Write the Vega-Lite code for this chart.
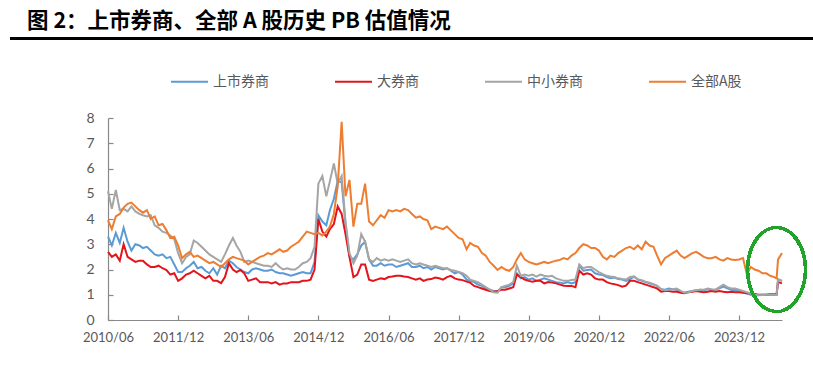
{
  "$schema": "https://vega.github.io/schema/vega-lite/v6.json",
  "width": 674,
  "height": 202,
  "autosize": {"type": "none"},
  "padding": {"left": 108, "top": 118, "right": 31, "bottom": 47},
  "background": "white",
  "config": {
    "view": {"stroke": null},
    "axis": {"domainColor": "#898989", "tickColor": "#898989", "labelColor": "#595959", "labelFont": "Lato", "labelFontSize": 14, "grid": false, "domainWidth": 1.2, "tickWidth": 1.2, "labelOverlap": false, "labelFlush": false}
  },
  "title": {"text": "图 2：上市券商、全部 A 股历史 PB 估值情况", "anchor": "start", "frame": "group", "dx": -81, "offset": 5, "font": "Noto Sans CJK SC", "fontSize": 21.5, "fontWeight": "bold", "color": "#000000"},
  "data": {"values": [
    {"d":"2010-06-01","listed":3.3,"big":2.7,"small":5.1,"allA":3.95},
    {"d":"2010-07-01","listed":2.95,"big":2.5,"small":4.4,"allA":3.6},
    {"d":"2010-08-01","listed":3.45,"big":2.6,"small":5.15,"allA":4.1},
    {"d":"2010-09-01","listed":3.05,"big":2.35,"small":4.35,"allA":4.2},
    {"d":"2010-10-01","listed":3.65,"big":3.0,"small":4.4,"allA":4.45},
    {"d":"2010-11-01","listed":3.1,"big":2.5,"small":4.3,"allA":4.6},
    {"d":"2010-12-01","listed":2.75,"big":2.4,"small":4.5,"allA":4.65},
    {"d":"2011-01-01","listed":3.0,"big":2.3,"small":4.3,"allA":4.5},
    {"d":"2011-02-01","listed":2.95,"big":2.35,"small":4.2,"allA":4.35},
    {"d":"2011-03-01","listed":2.85,"big":2.35,"small":4.15,"allA":4.25},
    {"d":"2011-04-01","listed":2.9,"big":2.2,"small":4.1,"allA":4.35},
    {"d":"2011-05-01","listed":2.75,"big":2.1,"small":4.15,"allA":4.0},
    {"d":"2011-06-01","listed":2.6,"big":2.1,"small":3.75,"allA":4.1},
    {"d":"2011-07-01","listed":2.55,"big":2.15,"small":3.65,"allA":3.75},
    {"d":"2011-08-01","listed":2.6,"big":2.05,"small":3.5,"allA":3.8},
    {"d":"2011-09-01","listed":2.45,"big":1.98,"small":3.45,"allA":3.55},
    {"d":"2011-10-01","listed":2.5,"big":1.8,"small":3.35,"allA":3.25},
    {"d":"2011-11-01","listed":2.2,"big":1.85,"small":3.2,"allA":3.3},
    {"d":"2011-12-01","listed":1.9,"big":1.55,"small":2.65,"allA":2.95},
    {"d":"2012-01-01","listed":1.9,"big":1.65,"small":2.25,"allA":2.45},
    {"d":"2012-02-01","listed":2.05,"big":1.8,"small":2.5,"allA":2.6},
    {"d":"2012-03-01","listed":2.15,"big":1.85,"small":2.6,"allA":2.7},
    {"d":"2012-04-01","listed":2.3,"big":1.95,"small":3.15,"allA":2.5},
    {"d":"2012-05-01","listed":2.05,"big":1.85,"small":3.05,"allA":2.55},
    {"d":"2012-06-01","listed":2.1,"big":1.75,"small":2.9,"allA":2.45},
    {"d":"2012-07-01","listed":1.95,"big":1.65,"small":2.75,"allA":2.35},
    {"d":"2012-08-01","listed":1.85,"big":1.75,"small":2.6,"allA":2.25},
    {"d":"2012-09-01","listed":2.05,"big":1.55,"small":2.5,"allA":2.3},
    {"d":"2012-10-01","listed":1.8,"big":1.55,"small":2.4,"allA":2.2},
    {"d":"2012-11-01","listed":2.15,"big":1.46,"small":2.3,"allA":2.1},
    {"d":"2012-12-01","listed":2.05,"big":1.7,"small":2.6,"allA":2.25},
    {"d":"2013-01-01","listed":2.35,"big":2.25,"small":2.95,"allA":2.4},
    {"d":"2013-02-01","listed":2.25,"big":2.0,"small":3.25,"allA":2.5},
    {"d":"2013-03-01","listed":2.1,"big":1.9,"small":2.95,"allA":2.45},
    {"d":"2013-04-01","listed":2.0,"big":1.98,"small":2.7,"allA":2.4},
    {"d":"2013-05-01","listed":1.9,"big":1.85,"small":2.3,"allA":2.35},
    {"d":"2013-06-01","listed":1.85,"big":1.55,"small":2.35,"allA":2.2},
    {"d":"2013-07-01","listed":2.0,"big":1.6,"small":2.3,"allA":2.3},
    {"d":"2013-08-01","listed":2.05,"big":1.65,"small":2.25,"allA":2.4},
    {"d":"2013-09-01","listed":2.0,"big":1.5,"small":2.2,"allA":2.5},
    {"d":"2013-10-01","listed":1.95,"big":1.5,"small":2.15,"allA":2.55},
    {"d":"2013-11-01","listed":1.95,"big":1.5,"small":2.15,"allA":2.65},
    {"d":"2013-12-01","listed":2.0,"big":1.45,"small":2.1,"allA":2.6},
    {"d":"2014-01-01","listed":1.9,"big":1.5,"small":2.25,"allA":2.7},
    {"d":"2014-02-01","listed":1.85,"big":1.4,"small":2.1,"allA":2.8},
    {"d":"2014-03-01","listed":1.85,"big":1.45,"small":2.0,"allA":2.7},
    {"d":"2014-04-01","listed":1.8,"big":1.45,"small":2.05,"allA":2.75},
    {"d":"2014-05-01","listed":1.75,"big":1.5,"small":2.0,"allA":2.9},
    {"d":"2014-06-01","listed":1.8,"big":1.5,"small":2.0,"allA":3.0},
    {"d":"2014-07-01","listed":1.85,"big":1.5,"small":2.1,"allA":3.1},
    {"d":"2014-08-01","listed":1.9,"big":1.55,"small":2.25,"allA":3.3},
    {"d":"2014-09-01","listed":1.85,"big":1.55,"small":2.3,"allA":3.5},
    {"d":"2014-10-01","listed":1.85,"big":1.6,"small":2.45,"allA":3.45},
    {"d":"2014-11-01","listed":2.3,"big":2.0,"small":2.9,"allA":3.4},
    {"d":"2014-12-01","listed":4.15,"big":4.0,"small":5.4,"allA":3.45},
    {"d":"2015-01-01","listed":3.9,"big":3.5,"small":5.7,"allA":3.35},
    {"d":"2015-02-01","listed":3.75,"big":3.3,"small":4.9,"allA":3.5},
    {"d":"2015-03-01","listed":4.35,"big":3.6,"small":5.5,"allA":3.7},
    {"d":"2015-04-01","listed":4.8,"big":3.8,"small":6.2,"allA":4.2},
    {"d":"2015-05-01","listed":5.5,"big":4.5,"small":5.4,"allA":5.3},
    {"d":"2015-06-01","listed":5.45,"big":4.2,"small":5.7,"allA":7.85},
    {"d":"2015-07-01","listed":3.8,"big":3.4,"small":3.9,"allA":4.9},
    {"d":"2015-08-01","listed":2.5,"big":2.5,"small":2.65,"allA":5.55},
    {"d":"2015-09-01","listed":2.4,"big":1.7,"small":2.25,"allA":3.7},
    {"d":"2015-10-01","listed":2.6,"big":1.8,"small":2.55,"allA":4.6},
    {"d":"2015-11-01","listed":2.95,"big":2.2,"small":3.4,"allA":4.6},
    {"d":"2015-12-01","listed":3.1,"big":2.2,"small":3.1,"allA":5.4},
    {"d":"2016-01-01","listed":2.4,"big":1.6,"small":2.4,"allA":3.9},
    {"d":"2016-02-01","listed":2.15,"big":1.55,"small":2.3,"allA":3.75},
    {"d":"2016-03-01","listed":2.15,"big":1.6,"small":2.45,"allA":3.95},
    {"d":"2016-04-01","listed":2.25,"big":1.65,"small":2.35,"allA":4.15},
    {"d":"2016-05-01","listed":2.15,"big":1.62,"small":2.4,"allA":4.05},
    {"d":"2016-06-01","listed":2.2,"big":1.7,"small":2.35,"allA":4.35},
    {"d":"2016-07-01","listed":2.2,"big":1.72,"small":2.4,"allA":4.3},
    {"d":"2016-08-01","listed":2.1,"big":1.75,"small":2.35,"allA":4.35},
    {"d":"2016-09-01","listed":2.15,"big":1.75,"small":2.3,"allA":4.3},
    {"d":"2016-10-01","listed":2.2,"big":1.72,"small":2.35,"allA":4.4},
    {"d":"2016-11-01","listed":2.25,"big":1.7,"small":2.4,"allA":4.35},
    {"d":"2016-12-01","listed":2.1,"big":1.65,"small":2.25,"allA":4.2},
    {"d":"2017-01-01","listed":2.1,"big":1.6,"small":2.2,"allA":4.05},
    {"d":"2017-02-01","listed":2.15,"big":1.65,"small":2.25,"allA":4.1},
    {"d":"2017-03-01","listed":2.05,"big":1.55,"small":2.2,"allA":4.0},
    {"d":"2017-04-01","listed":2.1,"big":1.6,"small":2.15,"allA":3.95},
    {"d":"2017-05-01","listed":2.0,"big":1.62,"small":2.1,"allA":3.6},
    {"d":"2017-06-01","listed":2.1,"big":1.68,"small":2.15,"allA":3.7},
    {"d":"2017-07-01","listed":2.05,"big":1.65,"small":2.1,"allA":3.65},
    {"d":"2017-08-01","listed":2.0,"big":1.6,"small":2.05,"allA":3.6},
    {"d":"2017-09-01","listed":2.05,"big":1.7,"small":2.05,"allA":3.7},
    {"d":"2017-10-01","listed":1.95,"big":1.75,"small":1.98,"allA":3.55},
    {"d":"2017-11-01","listed":1.85,"big":1.65,"small":1.95,"allA":3.4},
    {"d":"2017-12-01","listed":1.9,"big":1.6,"small":1.9,"allA":3.25},
    {"d":"2018-01-01","listed":1.8,"big":1.58,"small":1.85,"allA":3.2},
    {"d":"2018-02-01","listed":1.6,"big":1.52,"small":1.75,"allA":2.8},
    {"d":"2018-03-01","listed":1.55,"big":1.48,"small":1.6,"allA":3.05},
    {"d":"2018-04-01","listed":1.5,"big":1.35,"small":1.55,"allA":2.95},
    {"d":"2018-05-01","listed":1.4,"big":1.3,"small":1.5,"allA":2.9},
    {"d":"2018-06-01","listed":1.35,"big":1.25,"small":1.4,"allA":2.65},
    {"d":"2018-07-01","listed":1.25,"big":1.2,"small":1.3,"allA":2.55},
    {"d":"2018-08-01","listed":1.2,"big":1.15,"small":1.2,"allA":2.3},
    {"d":"2018-09-01","listed":1.15,"big":1.12,"small":1.1,"allA":2.15},
    {"d":"2018-10-01","listed":1.12,"big":1.15,"small":1.08,"allA":1.98},
    {"d":"2018-11-01","listed":1.3,"big":1.2,"small":1.3,"allA":2.1},
    {"d":"2018-12-01","listed":1.3,"big":1.2,"small":1.35,"allA":2.0},
    {"d":"2019-01-01","listed":1.35,"big":1.25,"small":1.4,"allA":1.95},
    {"d":"2019-02-01","listed":1.45,"big":1.3,"small":1.5,"allA":2.1},
    {"d":"2019-03-01","listed":1.85,"big":1.8,"small":2.15,"allA":2.4},
    {"d":"2019-04-01","listed":1.65,"big":1.7,"small":1.75,"allA":2.65},
    {"d":"2019-05-01","listed":1.7,"big":1.6,"small":1.8,"allA":2.4},
    {"d":"2019-06-01","listed":1.6,"big":1.55,"small":1.75,"allA":2.3},
    {"d":"2019-07-01","listed":1.65,"big":1.52,"small":1.8,"allA":2.25},
    {"d":"2019-08-01","listed":1.55,"big":1.55,"small":1.72,"allA":2.2},
    {"d":"2019-09-01","listed":1.6,"big":1.55,"small":1.8,"allA":2.25},
    {"d":"2019-10-01","listed":1.65,"big":1.45,"small":1.75,"allA":2.3},
    {"d":"2019-11-01","listed":1.6,"big":1.5,"small":1.72,"allA":2.25},
    {"d":"2019-12-01","listed":1.55,"big":1.48,"small":1.75,"allA":2.3},
    {"d":"2020-01-01","listed":1.5,"big":1.45,"small":1.65,"allA":2.35},
    {"d":"2020-02-01","listed":1.48,"big":1.4,"small":1.6,"allA":2.38},
    {"d":"2020-03-01","listed":1.45,"big":1.36,"small":1.55,"allA":2.45},
    {"d":"2020-04-01","listed":1.5,"big":1.35,"small":1.55,"allA":2.4},
    {"d":"2020-05-01","listed":1.45,"big":1.35,"small":1.58,"allA":2.55},
    {"d":"2020-06-01","listed":1.5,"big":1.3,"small":1.6,"allA":2.65},
    {"d":"2020-07-01","listed":2.15,"big":1.95,"small":2.2,"allA":2.85},
    {"d":"2020-08-01","listed":1.95,"big":1.8,"small":2.05,"allA":3.0},
    {"d":"2020-09-01","listed":1.98,"big":1.85,"small":2.1,"allA":2.95},
    {"d":"2020-10-01","listed":2.0,"big":1.8,"small":2.1,"allA":2.85},
    {"d":"2020-11-01","listed":1.85,"big":1.65,"small":2.0,"allA":2.85},
    {"d":"2020-12-01","listed":1.8,"big":1.6,"small":1.9,"allA":2.75},
    {"d":"2021-01-01","listed":1.78,"big":1.6,"small":1.82,"allA":2.5},
    {"d":"2021-02-01","listed":1.7,"big":1.5,"small":1.75,"allA":2.4},
    {"d":"2021-03-01","listed":1.65,"big":1.45,"small":1.72,"allA":2.55},
    {"d":"2021-04-01","listed":1.68,"big":1.42,"small":1.7,"allA":2.5},
    {"d":"2021-05-01","listed":1.62,"big":1.38,"small":1.65,"allA":2.65},
    {"d":"2021-06-01","listed":1.6,"big":1.32,"small":1.62,"allA":2.75},
    {"d":"2021-07-01","listed":1.55,"big":1.36,"small":1.6,"allA":2.85},
    {"d":"2021-08-01","listed":1.62,"big":1.55,"small":1.7,"allA":2.9},
    {"d":"2021-09-01","listed":1.72,"big":1.55,"small":1.72,"allA":2.8},
    {"d":"2021-10-01","listed":1.6,"big":1.5,"small":1.62,"allA":2.95},
    {"d":"2021-11-01","listed":1.55,"big":1.45,"small":1.58,"allA":2.8},
    {"d":"2021-12-01","listed":1.5,"big":1.4,"small":1.52,"allA":3.1},
    {"d":"2022-01-01","listed":1.45,"big":1.35,"small":1.48,"allA":2.95},
    {"d":"2022-02-01","listed":1.4,"big":1.3,"small":1.42,"allA":2.9},
    {"d":"2022-03-01","listed":1.35,"big":1.25,"small":1.35,"allA":2.55},
    {"d":"2022-04-01","listed":1.22,"big":1.12,"small":1.22,"allA":2.2},
    {"d":"2022-05-01","listed":1.2,"big":1.15,"small":1.18,"allA":2.45},
    {"d":"2022-06-01","listed":1.25,"big":1.15,"small":1.2,"allA":2.55},
    {"d":"2022-07-01","listed":1.22,"big":1.12,"small":1.22,"allA":2.65},
    {"d":"2022-08-01","listed":1.2,"big":1.12,"small":1.25,"allA":2.75},
    {"d":"2022-09-01","listed":1.12,"big":1.08,"small":1.15,"allA":2.55},
    {"d":"2022-10-01","listed":1.08,"big":1.06,"small":1.08,"allA":2.45},
    {"d":"2022-11-01","listed":1.12,"big":1.1,"small":1.1,"allA":2.55},
    {"d":"2022-12-01","listed":1.15,"big":1.12,"small":1.15,"allA":2.65},
    {"d":"2023-01-01","listed":1.18,"big":1.15,"small":1.18,"allA":2.7},
    {"d":"2023-02-01","listed":1.2,"big":1.12,"small":1.2,"allA":2.6},
    {"d":"2023-03-01","listed":1.18,"big":1.1,"small":1.2,"allA":2.5},
    {"d":"2023-04-01","listed":1.22,"big":1.12,"small":1.25,"allA":2.45},
    {"d":"2023-05-01","listed":1.18,"big":1.15,"small":1.22,"allA":2.45},
    {"d":"2023-06-01","listed":1.2,"big":1.12,"small":1.2,"allA":2.5},
    {"d":"2023-07-01","listed":1.25,"big":1.15,"small":1.3,"allA":2.4},
    {"d":"2023-08-01","listed":1.32,"big":1.12,"small":1.4,"allA":2.35},
    {"d":"2023-09-01","listed":1.25,"big":1.1,"small":1.3,"allA":2.45},
    {"d":"2023-10-01","listed":1.2,"big":1.12,"small":1.25,"allA":2.4},
    {"d":"2023-11-01","listed":1.18,"big":1.1,"small":1.25,"allA":2.38},
    {"d":"2023-12-01","listed":1.15,"big":1.1,"small":1.2,"allA":2.4},
    {"d":"2024-01-01","listed":1.1,"big":1.08,"small":1.15,"allA":2.45},
    {"d":"2024-02-01","listed":1.05,"big":1.06,"small":1.1,"allA":1.8},
    {"d":"2024-03-01","listed":1.0,"big":1.06,"small":1.05,"allA":2.1},
    {"d":"2024-04-01","listed":1.0,"big":1.03,"small":1.0,"allA":2.0},
    {"d":"2024-05-01","listed":0.99,"big":1.0,"small":0.98,"allA":1.95},
    {"d":"2024-06-01","listed":1.0,"big":1.0,"small":0.99,"allA":1.85},
    {"d":"2024-07-01","listed":1.0,"big":1.0,"small":1.0,"allA":1.85},
    {"d":"2024-08-01","listed":1.0,"big":1.02,"small":1.0,"allA":1.75},
    {"d":"2024-09-01","listed":1.0,"big":1.02,"small":1.0,"allA":1.7},
    {"d":"2024-09-20","listed":1.0,"big":1.02,"small":0.99,"allA":1.65},
    {"d":"2024-10-01","listed":1.6,"big":1.5,"small":1.62,"allA":2.4},
    {"d":"2024-11-01","listed":1.55,"big":1.45,"small":1.55,"allA":2.65}
  ]},
  "layer": [
    {
      "mark": {"type": "line", "strokeWidth": 2, "interpolate": "linear"},
      "encoding": {
        "x": {"field": "d", "type": "temporal",
          "scale": {"domain": [{"year": 2010, "month": 6, "date": 1}, {"year": 2024, "month": 11, "date": 1}]},
          "axis": {"title": null, "format": "%Y/%m", "tickSize": -5, "labelPadding": 16, "labelFontSize": 13, "labelOverlap": false,
            "values": [{"year": 2010, "month": 6, "date": 1}, {"year": 2011, "month": 12, "date": 1}, {"year": 2013, "month": 6, "date": 1}, {"year": 2014, "month": 12, "date": 1}, {"year": 2016, "month": 6, "date": 1}, {"year": 2017, "month": 12, "date": 1}, {"year": 2019, "month": 6, "date": 1}, {"year": 2020, "month": 12, "date": 1}, {"year": 2022, "month": 6, "date": 1}, {"year": 2023, "month": 12, "date": 1}]}},
        "y": {"field": "listed", "type": "quantitative",
          "scale": {"domain": [0, 8], "nice": false, "zero": true},
          "axis": {"title": null, "values": [0, 1, 2, 3, 4, 5, 6, 7, 8], "tickSize": -5, "labelPadding": 19, "labelOverlap": false, "labelFontSize": 14}},
        "color": {"datum": "上市券商", "type": "nominal",
          "scale": {"domain": ["上市券商", "大券商", "中小券商", "全部A股"], "range": ["#5B9BD5", "#E3141B", "#A5A5A5", "#ED7D31"]},
          "legend": {"title": null, "orient": "none", "direction": "horizontal", "legendX": 62, "legendY": -56,
            "symbolType": "stroke", "symbolSize": 1369, "symbolStrokeWidth": 2, "labelFont": "Noto Sans CJK SC", "labelFontSize": 14, "labelColor": "#595959", "labelOffset": 4, "columnPadding": 62}}
      }
    },
    {
      "mark": {"type": "line", "strokeWidth": 2},
      "encoding": {
        "x": {"field": "d", "type": "temporal"},
        "y": {"field": "big", "type": "quantitative", "axis": {"title": null, "values": [0, 1, 2, 3, 4, 5, 6, 7, 8], "tickSize": -5, "labelPadding": 19, "labelOverlap": false, "labelFontSize": 14}},
        "color": {"datum": "大券商", "type": "nominal"}
      }
    },
    {
      "mark": {"type": "line", "strokeWidth": 2},
      "encoding": {
        "x": {"field": "d", "type": "temporal"},
        "y": {"field": "small", "type": "quantitative", "axis": {"title": null, "values": [0, 1, 2, 3, 4, 5, 6, 7, 8], "tickSize": -5, "labelPadding": 19, "labelOverlap": false, "labelFontSize": 14}},
        "color": {"datum": "中小券商", "type": "nominal"}
      }
    },
    {
      "mark": {"type": "line", "strokeWidth": 2},
      "encoding": {
        "x": {"field": "d", "type": "temporal"},
        "y": {"field": "allA", "type": "quantitative", "axis": {"title": null, "values": [0, 1, 2, 3, 4, 5, 6, 7, 8], "tickSize": -5, "labelPadding": 19, "labelOverlap": false, "labelFontSize": 14}},
        "color": {"datum": "全部A股", "type": "nominal"}
      }
    },
    {
      "mark": {"type": "point", "shape": "M-0.69,0 A0.69,1 0 1,1 0.69,0 A0.69,1 0 1,1 -0.69,0 Z", "filled": false, "stroke": "#22A32B", "strokeWidth": 2.5, "opacity": 1, "size": 7056, "clip": false},
      "encoding": {
        "x": {"datum": {"year": 2024, "month": 9, "date": 19}, "type": "temporal"},
        "y": {"datum": 2.0, "type": "quantitative", "axis": {"title": null, "values": [0, 1, 2, 3, 4, 5, 6, 7, 8], "tickSize": -5, "labelPadding": 19, "labelOverlap": false, "labelFontSize": 14}}
      }
    },
    {
      "mark": {"type": "rule", "color": "#000000", "strokeWidth": 2.5, "clip": false},
      "encoding": {
        "x": {"datum": {"year": 2008, "month": 5, "date": 1}, "type": "temporal"},
        "x2": {"datum": {"year": 2025, "month": 8, "date": 1}},
        "y": {"datum": 11.15, "type": "quantitative", "axis": {"title": null, "values": [0, 1, 2, 3, 4, 5, 6, 7, 8], "tickSize": -5, "labelPadding": 19, "labelOverlap": false, "labelFontSize": 14}}
      }
    }
  ]
}
